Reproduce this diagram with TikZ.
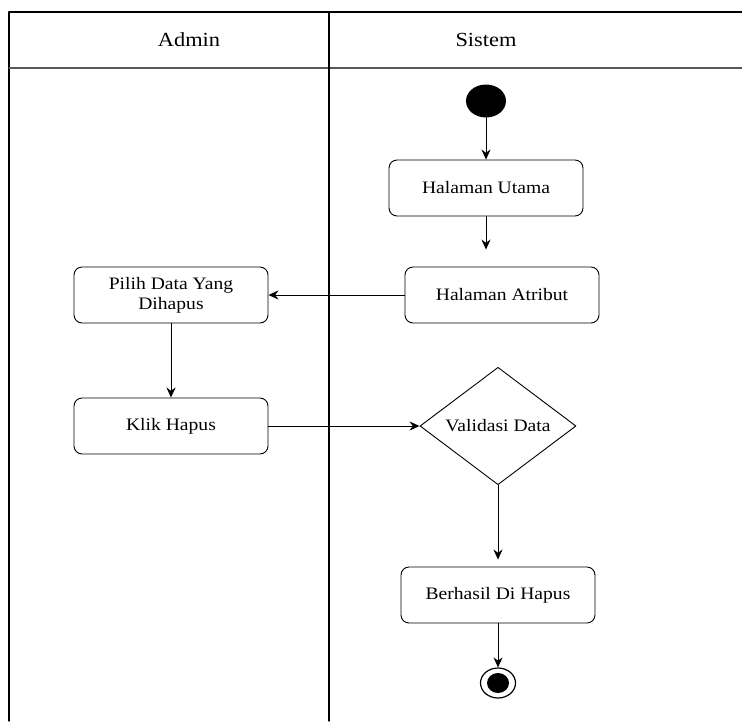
\documentclass[tikz,border=0pt]{standalone}
\usepackage{fontspec}
\setmainfont[FakeStretch=1.12]{Liberation Serif}
\usetikzlibrary{arrows.meta,shapes.geometric}
\begin{document}
\begin{tikzpicture}[x=1pt,y=-1pt,line cap=round,line join=round,>={Stealth[length=10pt,width=9pt]},
  font=\fontsize{17.5}{20}\selectfont,
  aktivitas/.style={draw,rounded corners=8pt,line width=0.9pt,minimum width=194pt,minimum height=56pt,align=center,inner sep=2pt},
  judul/.style={font=\fontsize{20}{22}\selectfont},
  garis/.style={line width=1.3pt},
  panah/.style={->,line width=0.9pt}]
\useasboundingbox (0,0) rectangle (742,721);
% kolom swimlane
\draw[garis] (742,12) -- (9,12) -- (9,721);
\draw[garis,draw=black!65] (9,68) -- (742,68);
\draw[garis] (329,12) -- (329,721);
\node[judul] (admin) at (189,40) {Admin};
\node[judul] (sistem) at (486,40) {Sistem};

% aktivitas
\node[fill=black,ellipse,minimum width=40pt,minimum height=33pt,inner sep=0pt] (mulai) at (486,101) {};
\node[aktivitas] (utama) at (486,188) {Halaman Utama};
\node[aktivitas] (atribut) at (502,295) {Halaman Atribut};
\node[aktivitas] (pilih) at (171,295) {Pilih Data Yang\\Dihapus};
\node[aktivitas] (klik) at (171,426) {Klik Hapus};
\node[draw,diamond,line width=0.9pt,minimum width=156pt,minimum height=112pt,inner sep=0pt] (validasi) at (498,426) {Validasi Data};
\node[aktivitas] (berhasil) at (498,595) {Berhasil Di Hapus};
\node[draw,ellipse,line width=1.2pt,minimum width=35pt,minimum height=30pt,inner sep=0pt] (selesai) at (498,683) {};
\fill (selesai.center) ellipse (11pt and 10pt);

% alur
\draw[panah] (mulai) -- (utama);
\draw[panah,shorten >=17pt] (utama) -- (utama |- atribut.north);
\draw[panah] (atribut) -- (pilih);
\draw[panah] (pilih) -- (klik);
\draw[panah] (klik) -- (validasi);
\draw[panah,shorten >=7pt] (validasi) -- (berhasil);
\draw[panah] (berhasil) -- (selesai);
\end{tikzpicture}
\end{document}
